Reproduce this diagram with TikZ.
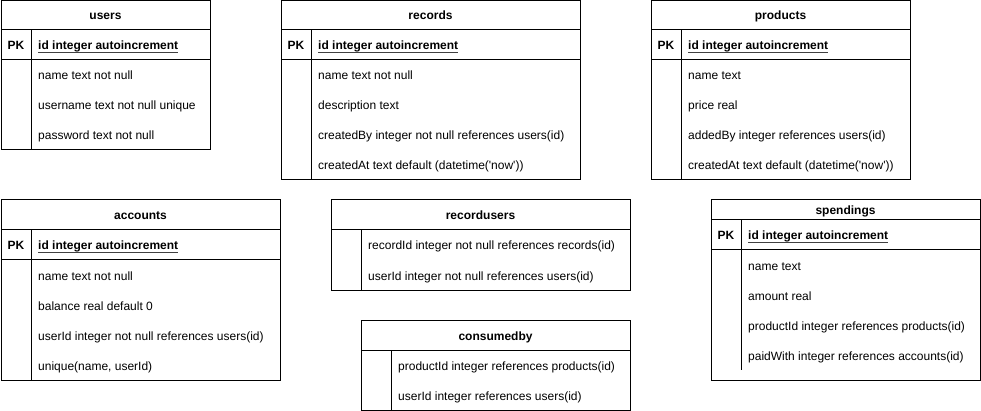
\documentclass[tikz,border=0pt]{standalone}
\usepackage{fontspec}
\setmainfont{Liberation Sans}
\newcommand{\sq}{\textquotesingle}
\begin{document}
\begin{tikzpicture}[x=1pt,y=-1pt,
  tbox/.style={draw, line width=1pt, anchor=north west, inner sep=0pt, outer sep=0pt},
  rule/.style={line width=1pt},
  uline/.style={line width=0.9pt, black!75},
  ttl/.style={font=\fontsize{12}{14}\selectfont\bfseries, inner sep=0pt, anchor=base},
  pkl/.style={font=\fontsize{12}{14}\selectfont\bfseries, inner sep=0pt, anchor=base},
  fld/.style={font=\fontsize{12}{14}\selectfont, anchor=base west, inner sep=0pt},
  pkf/.style={font=\fontsize{12}{14}\selectfont\bfseries, anchor=base west, inner sep=0pt}]
\useasboundingbox (0,0) rectangle (981,411);

% users
\node[tbox, minimum width=209pt, minimum height=149pt] (users) at (1,1) {};
\draw[rule] (1,30) -- (210,30);
\draw[rule] (1,60) -- (210,60);
\draw[rule] (31,30) -- (31,150);
\node[ttl] (usersT) at (105.5,20) {users};
\node[pkl] (usersPK) at (16,50) {PK};
\node[pkf] (usersId) at (38,50) {id integer autoincrement};
\draw[uline] ([yshift=-2pt]usersId.base west) -- ([yshift=-2pt]usersId.base east);
\node[fld] (usersF1) at (38,80) {name text not null};
\node[fld] (usersF2) at (38,110) {username text not null unique};
\node[fld] (usersF3) at (38,140) {password text not null};

% records
\node[tbox, minimum width=299pt, minimum height=179pt] (records) at (281,1) {};
\draw[rule] (281,30) -- (580,30);
\draw[rule] (281,60) -- (580,60);
\draw[rule] (311,30) -- (311,180);
\node[ttl] (recordsT) at (430.5,20) {records};
\node[pkl] (recordsPK) at (296,50) {PK};
\node[pkf] (recordsId) at (318,50) {id integer autoincrement};
\draw[uline] ([yshift=-2pt]recordsId.base west) -- ([yshift=-2pt]recordsId.base east);
\node[fld] (recordsF1) at (318,80) {name text not null};
\node[fld] (recordsF2) at (318,110) {description text};
\node[fld] (recordsF3) at (318,140) {createdBy integer not null references users(id)};
\node[fld] (recordsF4) at (318,170) {createdAt text default (datetime(\sq now\sq))};

% products
\node[tbox, minimum width=259pt, minimum height=179pt] (products) at (651,1) {};
\draw[rule] (651,30) -- (910,30);
\draw[rule] (651,60) -- (910,60);
\draw[rule] (681,30) -- (681,180);
\node[ttl] (productsT) at (780.5,20) {products};
\node[pkl] (productsPK) at (666,50) {PK};
\node[pkf] (productsId) at (688,50) {id integer autoincrement};
\draw[uline] ([yshift=-2pt]productsId.base west) -- ([yshift=-2pt]productsId.base east);
\node[fld] (productsF1) at (688,80) {name text};
\node[fld] (productsF2) at (688,110) {price real};
\node[fld] (productsF3) at (688,140) {addedBy integer references users(id)};
\node[fld] (productsF4) at (688,170) {createdAt text default (datetime(\sq now\sq))};

% accounts
\node[tbox, minimum width=279pt, minimum height=180pt] (accounts) at (1,200) {};
\draw[rule] (1,230) -- (280,230);
\draw[rule] (1,260) -- (280,260);
\draw[rule] (31,230) -- (31,380);
\node[ttl] (accountsT) at (140.5,220) {accounts};
\node[pkl] (accountsPK) at (16,250) {PK};
\node[pkf] (accountsId) at (38,250) {id integer autoincrement};
\draw[uline] ([yshift=-2pt]accountsId.base west) -- ([yshift=-2pt]accountsId.base east);
\node[fld] (accountsF1) at (38,280) {name text not null};
\node[fld] (accountsF2) at (38,310) {balance real default 0};
\node[fld] (accountsF3) at (38,340) {userId integer not null references users(id)};
\node[fld] (accountsF4) at (38,370) {unique(name, userId)};

% recordusers
\node[tbox, minimum width=299pt, minimum height=90pt] (recordusers) at (331,200) {};
\draw[rule] (331,230) -- (630,230);
\draw[rule] (361,230) -- (361,290);
\node[ttl] (recordusersT) at (480.5,220) {recordusers};
\node[fld] (recordusersF1) at (368,250) {recordId integer not null references records(id)};
\node[fld] (recordusersF2) at (368,280) {userId integer not null references users(id)};

% consumedby
\node[tbox, minimum width=269pt, minimum height=90pt] (consumedby) at (361,320) {};
\draw[rule] (361,350) -- (630,350);
\draw[rule] (391,350) -- (391,410);
\node[ttl] (consumedbyT) at (495.5,340) {consumedby};
\node[fld] (consumedbyF1) at (398,370) {productId integer references products(id)};
\node[fld] (consumedbyF2) at (398,400) {userId integer references users(id)};

% spendings
\node[tbox, minimum width=269pt, minimum height=180pt] (spendings) at (711,200) {};
\draw[rule] (711,220) -- (980,220);
\draw[rule] (711,250) -- (980,250);
\draw[rule] (741,220) -- (741,370);
\node[ttl] (spendingsT) at (845.5,215) {spendings};
\node[pkl] (spendingsPK) at (726,240) {PK};
\node[pkf] (spendingsId) at (748,240) {id integer autoincrement};
\draw[uline] ([yshift=-2pt]spendingsId.base west) -- ([yshift=-2pt]spendingsId.base east);
\node[fld] (spendingsF1) at (748,270) {name text};
\node[fld] (spendingsF2) at (748,300) {amount real};
\node[fld] (spendingsF3) at (748,330) {productId integer references products(id)};
\node[fld] (spendingsF4) at (748,360) {paidWith integer references accounts(id)};
\end{tikzpicture}
\end{document}
